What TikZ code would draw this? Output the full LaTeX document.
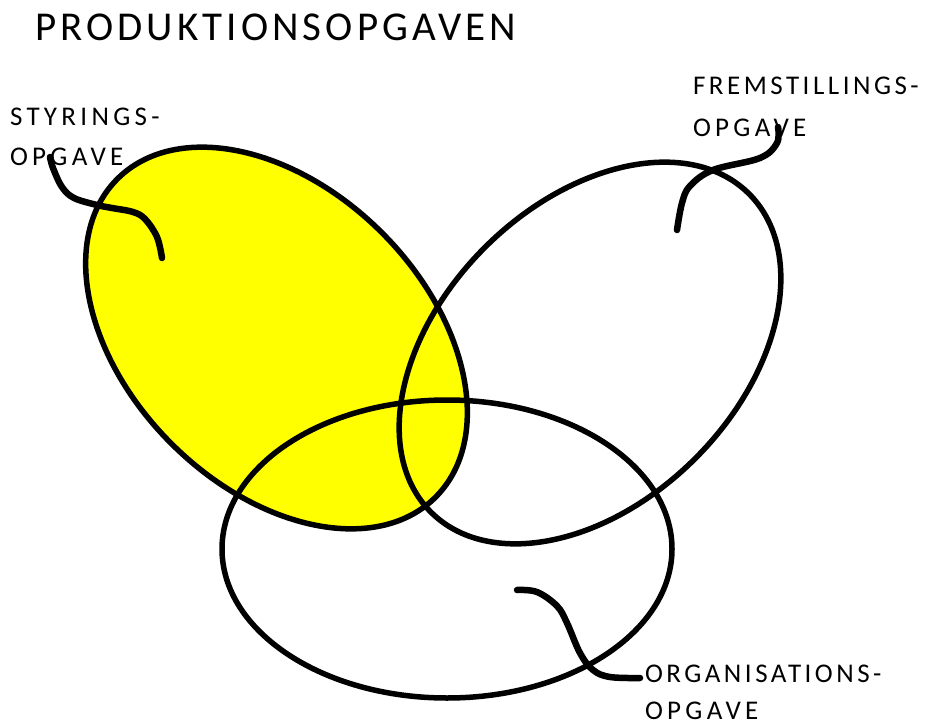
\documentclass[tikz,border=0pt]{standalone}
\usepackage{fontspec}
\setmainfont{Carlito}
\newfontfamily\spacedfont[LetterSpace=16]{Carlito}
\newfontfamily\narrowfont[LetterSpace=13]{Carlito}
\newfontfamily\titlefont[LetterSpace=10]{Carlito}
\usetikzlibrary{shapes.geometric}
\definecolor{ylw}{RGB}{255,255,0}
\begin{document}
\begin{tikzpicture}[x=1pt,y=-1pt,
  ell/.style={draw=black, line width=5.5pt, ellipse, inner sep=0pt, outer sep=0pt,
              minimum width=450pt, minimum height=298pt},
  conn/.style={draw=black, line width=6.5pt, line cap=round, line join=round},
  lbl/.style={anchor=base west, inner sep=0pt, outer sep=0pt,
              font=\spacedfont\fontsize{27}{27}\selectfont},
  lbln/.style={lbl, font=\narrowfont\fontsize{27}{27}\selectfont},
  ttl/.style={anchor=base west, inner sep=0pt, outer sep=0pt,
              font=\titlefont\fontsize{41}{41}\selectfont}]
\useasboundingbox (0,0) rectangle (926,725);
\fill[white] (0,0) rectangle (926,725);

% ellipses
\node[ell, fill=ylw, rotate=-45] (sty) at (276.5,338) {};
\node[ell, rotate=45] (fre) at (590,353) {};
\node[ell] (org) at (447,549) {};

% labels
\node[ttl] (title) at (35,41) {PRODUKTIONSOPGAVEN};
\node[lbl] (styA) at (10,125) {STYRINGS-};
\node[lbl] (styB) at (10,165) {OPGAVE};
\node[lbln] (freA) at (693,95) {FREMSTILLINGS-};
\node[lbl] (freB) at (693,136) {OPGAVE};
\node[lbln] (orgA) at (645,682) {ORGANISATIONS-};
\node[lbl] (orgB) at (645,719.5) {OPGAVE};

% leader lines
\coordinate (styS) at (50,157);
\coordinate (styE) at (162,258);
\coordinate (freS) at (778,127);
\coordinate (freE) at (677,230);
\coordinate (orgS) at (640,678);
\coordinate (orgE) at (517,590);
\draw[conn] plot[smooth, tension=0.6] coordinates {(styS) (53,168) (62,187) (74,198) (97,205) (112,208) (133,212) (145,219) (157,237) (styE)};
\draw[conn] plot[smooth, tension=0.6] coordinates {(freS) (777,143) (760,158) (713,170) (690,186) (682,203) (freE)};
\draw[conn] plot[smooth, tension=0.6] coordinates {(orgS) (610,677) (593,670) (580,653) (567,623) (557,606) (537,592) (orgE)};
\end{tikzpicture}
\end{document}
